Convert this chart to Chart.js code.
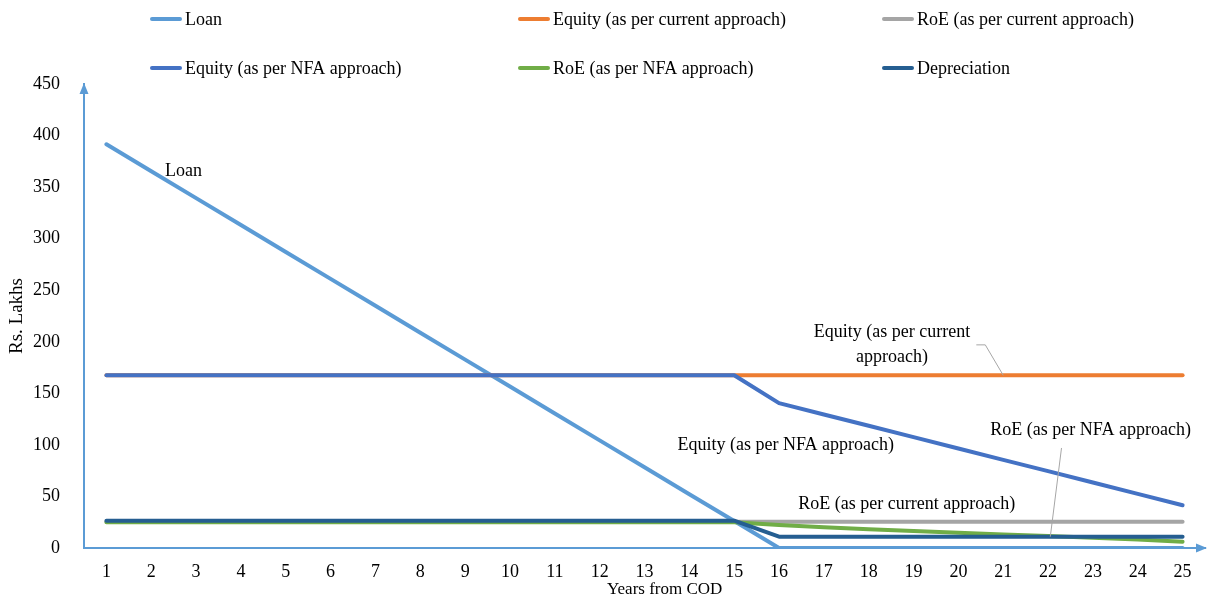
<!DOCTYPE html>
<html>
<head>
<meta charset="utf-8">
<script src="https://cdn.jsdelivr.net/npm/chart.js@4/dist/chart.umd.min.js"></script>
<style>
  html, body { margin: 0; padding: 0; background: #fff; }
  .chart_wrap { width: 1207px; height: 598px; }
</style>
</head>
<body>
<div class="chart_wrap"><canvas id="chartCod"></canvas></div>
<script>
  // 데이터
  var years = ['1', '2', '3', '4', '5', '6', '7', '8', '9', '10', '11', '12', '13',
    '14', '15', '16', '17', '18', '19', '20', '21', '22', '23', '24', '25'];
  var yTicks = [0, 50, 100, 150, 200, 250, 300, 350, 400, 450];
  var seriesNames = ['Loan', 'Equity (as per current approach)', 'RoE (as per current approach)',
    'Equity (as per NFA approach)', 'RoE (as per NFA approach)', 'Depreciation'];
  var loan = [391.5, 365.4, 339.3, 313.2, 287.1, 261, 234.9, 208.8, 182.7, 156.6, 130.5, 104.4, 78.3,
    52.2, 26.1, 0, 0, 0, 0, 0, 0, 0, 0, 0, 0];
  var equityCurrent = [167.5, 167.5, 167.5, 167.5, 167.5, 167.5, 167.5, 167.5, 167.5, 167.5, 167.5, 167.5, 167.5,
    167.5, 167.5, 167.5, 167.5, 167.5, 167.5, 167.5, 167.5, 167.5, 167.5, 167.5, 167.5];
  var roeCurrent = [25.5, 25.5, 25.5, 25.5, 25.5, 25.5, 25.5, 25.5, 25.5, 25.5, 25.5, 25.5, 25.5,
    25.5, 25.5, 25.5, 25.5, 25.5, 25.5, 25.5, 25.5, 25.5, 25.5, 25.5, 25.5];
  var equityNfa = [167.5, 167.5, 167.5, 167.5, 167.5, 167.5, 167.5, 167.5, 167.5, 167.5, 167.5, 167.5, 167.5,
    167.5, 167.5, 140.5, 129.5, 118.5, 107.5, 96.5, 85.5, 74.5, 63.5, 52.5, 41.5];
  var roeNfa = [25, 25, 25, 25, 25, 25, 25, 25, 25, 25, 25, 25, 25,
    25, 25, 22.3, 20.2, 18.3, 16.5, 14.8, 13.2, 11.6, 10, 8.2, 6.1];
  var depreciation = [26.5, 26.5, 26.5, 26.5, 26.5, 26.5, 26.5, 26.5, 26.5, 26.5, 26.5, 26.5, 26.5,
    26.5, 26.5, 11, 11, 11, 11, 11, 11, 11, 11, 11, 11];
  var seriesColors = ['#5B9BD5', '#ED7D31', '#A5A5A5', '#4472C4', '#70AD47', '#255E91'];

  // 데이터 레이블 (x: 연도 인덱스, y: 값)
  var notes = [
    { text: ['Loan'], x: 1.72, y: 365 },
    { text: ['Equity (as per current', 'approach)'], x: 17.52, y: 197 },
    { text: ['Equity (as per NFA approach)'], x: 15.15, y: 100 },
    { text: ['RoE (as per NFA approach)'], x: 21.95, y: 114 },
    { text: ['RoE (as per current approach)'], x: 17.85, y: 42 }
  ];
  var leaders = [
    { from: [19.4, 197], via: [19.6, 197], to: [20, 167.5] },
    { from: [21.3, 97], via: [21.3, 97], to: [21.05, 11] }
  ];

  var serif = '"Liberation Serif", "Times New Roman", serif';

  // 범례 (3열)
  var legendPlugin = {
    id: 'gridLegend',
    afterDraw: function (chart) {
      var ctx = chart.ctx;
      var cols = [152, 520, 884];
      var rows = [19, 68];
      ctx.save();
      ctx.font = '18px ' + serif;
      ctx.textBaseline = 'middle';
      ctx.fillStyle = '#000';
      chart.data.datasets.forEach(function (ds, i) {
        var x = cols[i % 3];
        var y = rows[Math.floor(i / 3)];
        ctx.strokeStyle = ds.borderColor;
        ctx.lineWidth = 4;
        ctx.lineCap = 'round';
        ctx.beginPath();
        ctx.moveTo(x, y);
        ctx.lineTo(x + 28, y);
        ctx.stroke();
        ctx.fillText(ds.label, x + 33, y + 1);
      });
      ctx.restore();
    }
  };

  // 축 화살표, 레이블
  var decoPlugin = {
    id: 'deco',
    afterDatasetsDraw: function (chart) {
      var ctx = chart.ctx;
      var xs = chart.scales.x, ys = chart.scales.y;
      var a = chart.chartArea;
      ctx.save();
      ctx.fillStyle = '#5B9BD5';
      ctx.beginPath();
      ctx.moveTo(a.left, a.top - 1);
      ctx.lineTo(a.left - 4.5, a.top + 10);
      ctx.lineTo(a.left + 4.5, a.top + 10);
      ctx.closePath();
      ctx.fill();
      ctx.beginPath();
      ctx.moveTo(a.right + 2, a.bottom);
      ctx.lineTo(a.right - 9, a.bottom - 4.5);
      ctx.lineTo(a.right - 9, a.bottom + 4.5);
      ctx.closePath();
      ctx.fill();

      ctx.strokeStyle = '#A6A6A6';
      ctx.lineWidth = 1;
      leaders.forEach(function (l) {
        ctx.beginPath();
        ctx.moveTo(xs.getPixelForValue(l.from[0]), ys.getPixelForValue(l.from[1]));
        ctx.lineTo(xs.getPixelForValue(l.via[0]), ys.getPixelForValue(l.via[1]));
        ctx.lineTo(xs.getPixelForValue(l.to[0]), ys.getPixelForValue(l.to[1]));
        ctx.stroke();
      });

      ctx.fillStyle = '#000';
      ctx.font = '18px ' + serif;
      ctx.textAlign = 'center';
      ctx.textBaseline = 'middle';
      notes.forEach(function (n) {
        var px = xs.getPixelForValue(n.x);
        var py = ys.getPixelForValue(n.y);
        var top = py - (n.text.length - 1) * 12.5;
        n.text.forEach(function (t, k) {
          ctx.fillText(t, px, top + k * 25);
        });
      });

      ctx.font = '17px ' + serif;
      ctx.fillText('Years from COD', xs.getPixelForValue(12.45), 590);
      ctx.restore();
    }
  };

  var allSeries = [loan, equityCurrent, roeCurrent, equityNfa, roeNfa, depreciation];
  var datasets = allSeries.map(function (data, i) {
    return {
      label: seriesNames[i],
      data: data,
      borderColor: seriesColors[i],
      backgroundColor: seriesColors[i],
      borderWidth: 4,
      borderCapStyle: 'round',
      borderJoinStyle: 'round',
      pointRadius: 0,
      tension: 0,
      fill: false,
      order: allSeries.length - i
    };
  });

  new Chart(document.getElementById('chartCod').getContext('2d'), {
    type: 'line',
    data: { labels: years, datasets: datasets },
    options: {
      responsive: true,
      maintainAspectRatio: false,
      animation: false,
      layout: { padding: { top: 84, right: 2, left: 0, bottom: 0 } },
      plugins: { legend: { display: false }, tooltip: { enabled: false } },
      scales: {
        x: {
          offset: true,
          grid: { display: false, drawTicks: false },
          border: { display: true, color: '#5B9BD5', width: 2 },
          ticks: { color: '#000', padding: 13, maxRotation: 0, autoSkip: false, font: { family: serif, size: 18 } },
          afterFit: function (s) { s.height = 50; }
        },
        y: {
          min: 0,
          max: 450,
          afterBuildTicks: function (s) { s.ticks = yTicks.map(function (v) { return { value: v }; }); },
          grid: { display: false, drawTicks: false },
          border: { display: true, color: '#5B9BD5', width: 2 },
          ticks: { color: '#000', padding: 24, font: { family: serif, size: 18 } },
          title: { display: true, text: 'Rs. Lakhs', color: '#000', padding: { top: 6, bottom: 0 }, font: { family: serif, size: 19 } },
          afterFit: function (s) { s.width = 84; }
        }
      }
    },
    plugins: [legendPlugin, decoPlugin]
  });
</script>
</body>
</html>
